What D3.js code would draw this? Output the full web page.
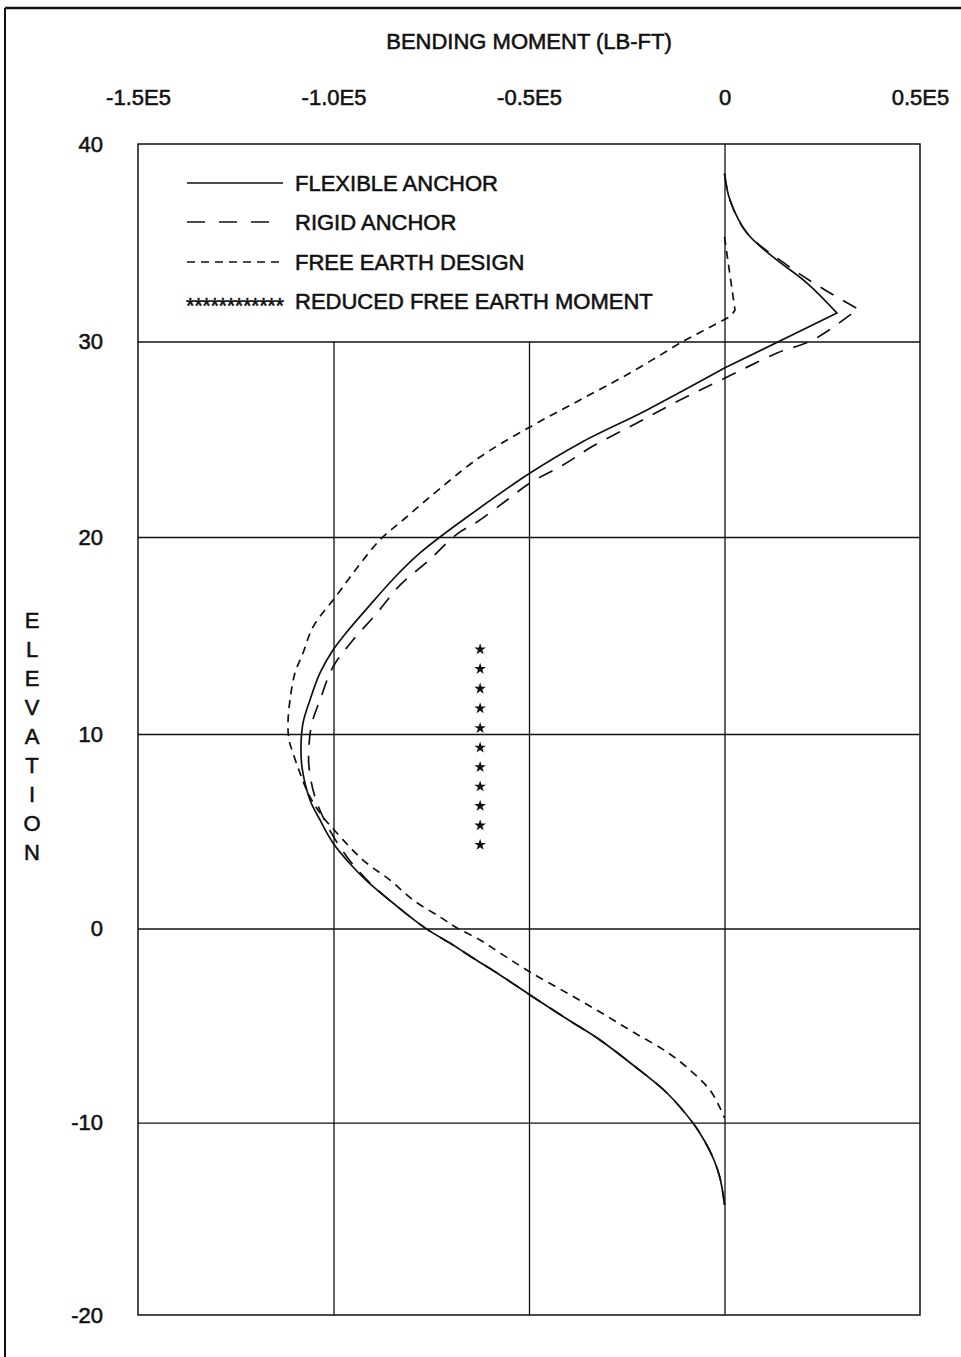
<!DOCTYPE html>
<html><head><meta charset="utf-8">
<script src="https://cdn.jsdelivr.net/npm/d3@7"></script>
<style>
body{margin:0;background:#fff}
svg{display:block}
text{font-family:"Liberation Sans",Arial,sans-serif;fill:#111;stroke:#111;stroke-width:0.55px}
</style>
</head><body>
<svg id="c" width="961" height="1357"></svg>
<script>
// ---------- DATA ----------
const xTickValues = [-150000, -100000, -50000, 0, 50000];
const xTickLabels = ["-1.5E5", "-1.0E5", "-0.5E5", "0", "0.5E5"];
const yTickValues = [40, 30, 20, 10, 0, -10, -20];
const yTickLabels = ["40", "30", "20", "10", "0", "-10", "-20"];
const xGridValues = [-100000, -50000];
const xZeroLine = [0];
const yGridValues = [30, 20, 10, 0, -10];
const titleText = "BENDING MOMENT (LB-FT)";
const yTitle = "ELEVATION";
const seriesNames = ["FLEXIBLE ANCHOR", "RIGID ANCHOR", "FREE EARTH DESIGN", "REDUCED FREE EARTH MOMENT"];

// Flexible anchor (solid)
const flexMoment = [0, 1400, 5750, 12400, 21100, 28770, 0, -19820, -36960, -49740, -66880, -72760, -77880, -83760, -90660, -96800, -100130, -103450, -106010, -107800, -108310, -108060, -106010, -103450, -100130, -95010, -91430, -84780, -76600, -69440, -64320, -57420, -49740, -40280, -31840, -23400, -14710, -8060, -5240, -2690, -1150, -260, 0];
const flexElev   = [38.5, 37.16, 35.49, 34.28, 32.96, 31.44, 28.64, 26.5, 24.8, 23.27, 20.87, 20.0, 19.19, 18.07, 16.55, 15.13, 14.26, 13.1, 11.73, 10.56, 9.43, 8.3, 6.61, 5.58, 4.4, 3.16, 2.44, 1.31, 0.03, -0.85, -1.52, -2.39, -3.42, -4.66, -5.74, -7.03, -8.47, -10.02, -10.9, -11.94, -12.88, -13.87, -14.28];

// Rigid anchor (long dash)
const rigidMoment = [0, 1400, 5750, 15980, 24420, 34140, 22630, 13430, -380, -11380, -22380, -33630, -41300, -49740, -55630, -63300, -68410, -76090, -82990, -88870, -95010, -100130, -103450, -105500, -106260, -106260, -104730, -101410, -96550, -90660, -84780, -76600, -69440, -64320, -57420, -49740, -40280, -31840, -23400, -14710, -8060, -5240, -2690, -1150, -260, 0];
const rigidElev   = [38.5, 37.16, 35.49, 33.87, 32.76, 31.65, 30.08, 29.41, 28.08, 27.01, 25.83, 24.65, 23.68, 22.76, 21.89, 20.77, 20.15, 18.73, 17.56, 16.14, 14.77, 13.4, 11.73, 10.56, 9.43, 8.3, 6.76, 5.22, 3.68, 2.34, 1.31, 0.03, -0.85, -1.52, -2.39, -3.42, -4.66, -5.74, -7.03, -8.47, -10.02, -10.9, -11.94, -12.88, -13.87, -14.28];

// Free earth design (short dash)
const freeMoment = [0, 2690, 1660, -11380, -24170, -36960, -49740, -62530, -75320, -82220, -88110, -93990, -99100, -105240, -107800, -109850, -111120, -111640, -111380, -110360, -108570, -106010, -102680, -99360, -92450, -85550, -79670, -72760, -68410, -62530, -56650, -49740, -40280, -31840, -23400, -14710, -8820, -3710, -1150, 0];
const freeElev   = [35.29, 31.59, 31.29, 29.92, 28.39, 27.01, 25.63, 24.09, 22.05, 20.87, 19.85, 18.43, 17.06, 15.43, 14.11, 13.1, 11.73, 10.56, 9.69, 9.02, 7.99, 6.76, 5.73, 4.96, 3.52, 2.49, 1.47, 0.59, 0.03, -0.59, -1.36, -2.24, -3.32, -4.3, -5.33, -6.36, -7.29, -8.32, -9.24, -9.76];

// Reduced free earth moment (stars)
const reducedMoment = [-62500, -62500, -62500, -62500, -62500, -62500, -62500, -62500, -62500, -62500, -62500];
const reducedElev   = [14.3, 13.3, 12.3, 11.3, 10.3, 9.3, 8.3, 7.3, 6.3, 5.3, 4.3];

// ---------- DRAW ----------
const svg = d3.select("#c");
const L = 138, R = 920, T = 144, B = 1315;
const x = d3.scaleLinear().domain([-150000, 50000]).range([L, R]);
const y = d3.scaleLinear().domain(yTickValues).range([144, 341.5, 537, 734, 928.5, 1122.7, 1315]);

// outer frame (top and left edges of the scanned page)
svg.append("line").attr("x1", 5).attr("x2", 961).attr("y1", 8).attr("y2", 8)
  .attr("stroke", "#111").attr("stroke-width", 2.5);
svg.append("line").attr("x1", 5).attr("x2", 5).attr("y1", 8).attr("y2", 1357)
  .attr("stroke", "#111").attr("stroke-width", 2);

// vertical grid lines (only below elevation 30, except the zero line)
const gx = svg.append("g").attr("transform", `translate(0,${B})`)
  .call(d3.axisBottom(x).tickValues(xGridValues).tickSize(-(B - y(30))).tickFormat(""));
gx.select(".domain").remove();
gx.selectAll("line").attr("stroke", "#111").attr("stroke-width", 1.3);
const gz = svg.append("g").attr("transform", `translate(0,${B})`)
  .call(d3.axisBottom(x).tickValues(xZeroLine).tickSize(-(B - T)).tickFormat(""));
gz.select(".domain").remove();
gz.selectAll("line").attr("stroke", "#111").attr("stroke-width", 1.3);

const gy = svg.append("g").attr("transform", `translate(${L},0)`)
  .call(d3.axisLeft(y).tickValues(yGridValues).tickSize(-(R - L)).tickFormat(""));
gy.select(".domain").remove();
gy.selectAll("line").attr("stroke", "#111").attr("stroke-width", 1.3);

// plot border
svg.append("rect").attr("x", L).attr("y", T).attr("width", R - L).attr("height", B - T)
  .attr("fill", "none").attr("stroke", "#111").attr("stroke-width", 1.5);

// x tick labels (top)
const ax = svg.append("g").attr("transform", "translate(0,105)")
  .call(d3.axisTop(x).tickValues(xTickValues).tickSize(0).tickPadding(0)
    .tickFormat((d, i) => xTickLabels[i]));
ax.select(".domain").remove();
ax.attr("font-size", null).attr("font-family", null);
ax.selectAll("text").style("font-size", "22px").attr("fill", "#111");

// y tick labels (left)
const ay = svg.append("g").attr("transform", "translate(103,0)")
  .call(d3.axisLeft(y).tickValues(yTickValues).tickSize(0).tickPadding(0)
    .tickFormat((d, i) => yTickLabels[i]));
ay.select(".domain").remove();
ay.attr("font-size", null).attr("font-family", null);
ay.selectAll("text").style("font-size", "22px").attr("fill", "#111");

// titles
svg.append("text").attr("x", 529).attr("y", 49).attr("text-anchor", "middle")
  .style("font-size", "22px").text(titleText);
svg.append("g").selectAll("text").data(yTitle.split("")).join("text")
  .attr("x", 32).attr("y", (d, i) => 628 + i * 29).attr("text-anchor", "middle")
  .style("font-size", "22px").text(d => d);

// curves: smooth pieces joined at the sharp corners
const smooth = d3.line().x(d => x(d[0])).y(d => y(d[1])).curve(d3.curveCatmullRom.alpha(0.5));
const zip = (a, b) => a.map((v, i) => [v, b[i]]);
function piecewise(pts, breaks) {
  const idx = [0, ...breaks, pts.length - 1];
  let out = "";
  for (let k = 0; k < idx.length - 1; k++) {
    const seg = smooth(pts.slice(idx[k], idx[k + 1] + 1));
    out += k === 0 ? seg : seg.replace(/^M[^A-Za-z]*/, "");
  }
  return out;
}
const styles = [
  {data: zip(flexMoment, flexElev), dash: null, breaks: [5, 6]},
  {data: zip(rigidMoment, rigidElev), dash: "15,11", breaks: [5]},
  {data: zip(freeMoment, freeElev), dash: "8,6", breaks: [1, 2, 3]}
];
svg.append("g").selectAll("path").data(styles).join("path")
  .attr("d", d => piecewise(d.data, d.breaks)).attr("fill", "none").attr("stroke", "#111")
  .attr("stroke-width", 1.7).attr("stroke-dasharray", d => d.dash)
  .attr("stroke-linejoin", "miter");

// stars
svg.append("g").selectAll("path").data(zip(reducedMoment, reducedElev)).join("path")
  .attr("transform", d => `translate(${x(d[0])},${y(d[1])})`)
  .attr("d", d3.symbol(d3.symbolStar, 42)).attr("fill", "#111");

// legend
const legY = [183, 222, 262, 301];
const lg = svg.append("g");
const legDash = [null, "18,14", "8,6"];
[0, 1, 2].forEach(i => {
  lg.append("line").attr("x1", 187).attr("x2", 283).attr("y1", legY[i]).attr("y2", legY[i])
    .attr("stroke", "#111").attr("stroke-width", 1.6).attr("stroke-dasharray", legDash[i]);
});
lg.append("text").attr("x", 186).attr("y", legY[3] + 12).style("font-size", "22px")
  .attr("textLength", 98).text("************");
lg.selectAll("text.lab").data(seriesNames).join("text").attr("class", "lab")
  .attr("x", 295).attr("y", (d, i) => legY[i] + 8).style("font-size", "22px").text(d => d);
</script>
</body></html>
